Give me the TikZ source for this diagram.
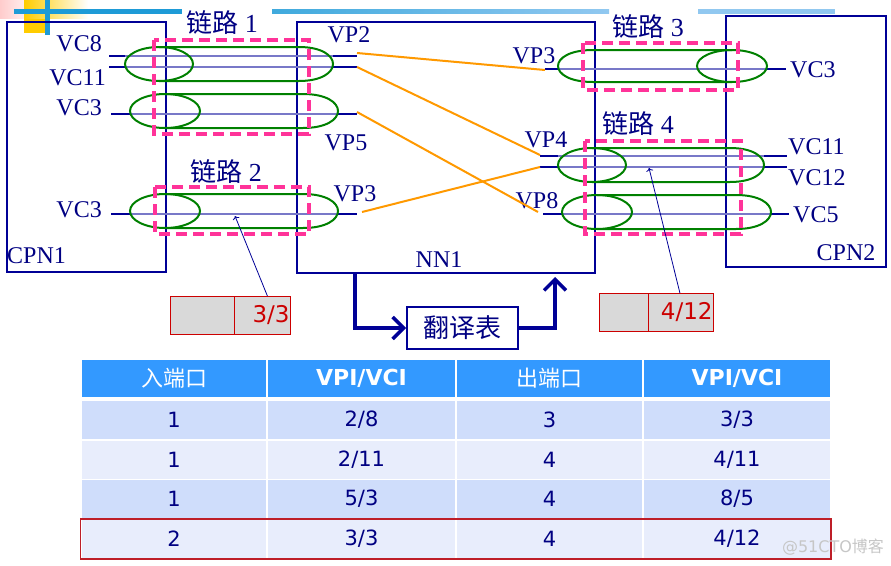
\documentclass[tikz,border=0pt]{standalone}
\usepackage{fontspec}
\usetikzlibrary{arrows.meta}
\setmainfont{Liberation Serif}
\newfontfamily\cjk{Noto Sans CJK SC}
\newfontfamily\tabfont{DejaVu Sans}
\definecolor{boxblue}{RGB}{0,0,150}
\definecolor{txtblue}{RGB}{0,0,130}
\definecolor{lightvc}{RGB}{120,120,200}
\definecolor{linkpink}{RGB}{255,51,153}
\definecolor{pipegreen}{RGB}{0,128,0}
\definecolor{vporange}{RGB}{255,153,0}
\definecolor{hdrblue}{RGB}{51,153,255}
\definecolor{rowa}{RGB}{207,221,251}
\definecolor{rowb}{RGB}{232,237,252}
\definecolor{valred}{RGB}{204,0,0}
\definecolor{valgray}{RGB}{217,217,217}
\definecolor{decoblue}{RGB}{30,155,215}
\definecolor{decolight}{RGB}{145,200,240}
\definecolor{gold}{RGB}{255,204,0}
\definecolor{rowline}{RGB}{190,30,40}

\begin{document}
\begin{tikzpicture}[x=1pt, y=-1pt,
	box/.style={draw=boxblue, line width=2pt, inner sep=0pt},
	lbl/.style={text=txtblue, inner sep=0pt, font=\fontsize{24}{26}\selectfont},
	link/.style={text=txtblue, inner sep=0pt, font=\fontsize{26}{28}\selectfont},
	vc/.style={boxblue, line width=2pt},
	vcin/.style={lightvc, line width=2pt},
	pipe/.style={pipegreen, line width=2pt},
	linkbox/.style={linkpink, line width=3.2pt, dash pattern=on 11pt off 6pt},
	xconn/.style={vporange, line width=2pt},
	ptr/.style={->, boxblue, line width=0.8pt},
	xlate/.style={-{Straight Barb[length=11pt, width=22pt]}, boxblue, line width=3.5pt},
	valcell/.style={draw=valred, fill=valgray, line width=0.8pt, minimum height=38pt, inner sep=0pt},
	valtext/.style={text=valred, inner sep=1pt, font=\tabfont\fontsize{23}{25}\selectfont},
	cellbox/.style={draw=white, line width=1.5pt},
	hdrtext/.style={text=white, font=\tabfont\bfseries\fontsize{22}{24}\selectfont},
	cell/.style={text=txtblue, font=\tabfont\fontsize{21}{23}\selectfont}]
	\useasboundingbox (0,0) rectangle (891,565);
	\shade[left color=pink!80, right color=pink!30] (0,0) rectangle (24,18);
	\shade[left color=gold, right color=white] (24,0) rectangle (88,18);
	\fill[gold] (24,19) rectangle (48,33);
	\fill[decoblue] (45,0) rectangle (50,35);
	\fill[decoblue] (14,9) rectangle (182,13.5);
	\shade[left color=decoblue!85, right color=decolight] (272,9) rectangle (609,13.5);
	\fill[decolight] (698,9) rectangle (835,13.5);

	\node[box, minimum width=159pt, minimum height=250pt] (cpn1) at (86.5,147) {};
	\node[box, minimum width=298pt, minimum height=251pt] (nn1) at (446,147.5) {};
	\node[box, minimum width=160pt, minimum height=251pt] (cpn2) at (806,141.5) {};
	\node[lbl, anchor=west] (cpn1l) at (7,256) {CPN1};
	\node[lbl] (nn1l) at (439,260) {NN1};
	\node[lbl] (cpn2l) at (846,253) {CPN2};

	\foreach \y/\xa/\xb/\la/\lb in {56/109/357/125/333, 67/109/357/125/333, 114/111/357/130/338, 214/111/357/130/338, 69/545/786/558/767, 156/540/787/558/764, 167/540/787/558/764, 214/543/789/562/771}{
		\draw[vc] (\xa,\y) -- (\xb,\y);
		\draw[vcin] (\la,\y) -- (\lb,\y);
	}
	\foreach \xf/\xh/\s/\yc/\rx/\ry in {159/299/1/64/34/17, 165/303/1/111/35/17, 165/303/1/211/35/17, 732/593/-1/66/35/16, 592/730/1/165/34/17, 597/736/1/212/35/17}{
		\draw[pipe] (\xf,\yc) ellipse[x radius=\rx, y radius=\ry];
		\draw[pipe] (\xf,\yc-\ry) -- (\xh,\yc-\ry) .. controls ({\xh+(\s)*1.333*\rx},\yc-\ry) and ({\xh+(\s)*1.333*\rx},\yc+\ry) .. (\xh,\yc+\ry) -- (\xf,\yc+\ry);
	}
	\draw[linkbox] (154,40) rectangle (309,134);
	\draw[linkbox] (155,187) rectangle (309,234);
	\draw[linkbox] (583,43) rectangle (738,90);
	\draw[linkbox] (585,141) rectangle (741,234);
	\node[link] (link1) at (222,23) {{\cjk 链路} 1};
	\node[link] (link2) at (226,172) {{\cjk 链路} 2};
	\node[link] (link3) at (648,27) {{\cjk 链路} 3};
	\node[link] (link4) at (638,124) {{\cjk 链路} 4};

	\node[lbl, anchor=east] (vc8) at (102,44) {VC8};
	\node[lbl, anchor=east] (vc11) at (106,78) {VC11};
	\node[lbl, anchor=east] (vc3a) at (102,108) {VC3};
	\node[lbl, anchor=east] (vc3b) at (102,210) {VC3};
	\node[lbl] (vp2l) at (349,35) {VP2};
	\node[lbl] (vp5l) at (346,143) {VP5};
	\node[lbl] (vp3l) at (355,194) {VP3};
	\node[lbl] (vp3r) at (534,56) {VP3};
	\node[lbl] (vp4r) at (546,140) {VP4};
	\node[lbl] (vp8r) at (537,201) {VP8};
	\node[lbl, anchor=west] (vc3c) at (790,70) {VC3};
	\node[lbl, anchor=west] (vc11r) at (788,147) {VC11};
	\node[lbl, anchor=west] (vc12r) at (788,178) {VC12};
	\node[lbl, anchor=west] (vc5r) at (793,215) {VC5};

	\coordinate (vp2a) at (357,53);
	\coordinate (vp2b) at (357,67);
	\coordinate (vp5) at (357,112);
	\coordinate (vp3a) at (362,212);
	\coordinate (vp3b) at (545,70);
	\coordinate (vp4a) at (540,155);
	\coordinate (vp4b) at (540,167);
	\coordinate (vp8) at (538,212);
	\draw[xconn] (vp2a) -- (vp3b);
	\draw[xconn] (vp2b) -- (vp4a);
	\draw[xconn] (vp5) -- (vp8);
	\draw[xconn] (vp3a) -- (vp4b);

	\node[valcell, minimum width=64pt, anchor=north west] (v33a) at (170,296) {};
	\node[valcell, minimum width=56pt, anchor=north west] (v33) at (234,296) {};
	\node[valtext, anchor=east] (v33t) at (v33.east) {3/3};
	\node[valcell, minimum width=49pt, anchor=north west] (v412a) at (599,293) {};
	\node[valcell, minimum width=65pt, anchor=north west] (v412) at (648,293) {};
	\node[valtext, anchor=east] (v412t) at (v412.east) {4/12};
	\coordinate (p33) at (235,216);
	\coordinate (p412) at (649,168);
	\draw[ptr] ([xshift=5pt]v33.north) -- (p33);
	\draw[ptr] ([xshift=-1pt]v412.north) -- (p412);

	\node[box, minimum width=111pt, minimum height=42pt, text=txtblue, font=\cjk\fontsize{26}{28}\selectfont] (xlat) at (462.5,328) {翻译表};
	\coordinate (xin) at (355,273);
	\coordinate (xout) at (555,277);
	\draw[xlate] (xin) |- (xlat.west);
	\draw[xlate] (xlat.east) -| (xout);

	\foreach \xa/\xb in {81/267, 267/456, 456/643, 643/831}{
		\draw[cellbox, fill=hdrblue] (\xa,359) rectangle (\xb,398);
		\foreach \t/\c in {400.5/rowa, 440/rowb, 479.5/rowa, 519/rowb}
			\draw[cellbox, fill=\c] (\xa,\t) rectangle (\xb,\t+39.5);
	}
	\node[hdrtext, font=\cjk\fontsize{22}{24}\selectfont] (h1) at (174,378) {入端口};
	\node[hdrtext] (h2) at (361.5,378) {VPI/VCI};
	\node[hdrtext, font=\cjk\fontsize{22}{24}\selectfont] (h3) at (549.5,378) {出端口};
	\node[hdrtext] (h4) at (737,378) {VPI/VCI};
	\foreach \r/\y/\a/\bn/\bd/\c/\dn/\dd in {1/420/1/2/8/3/3/3, 2/459.5/1/2/11/4/4/11, 3/499/1/5/3/4/8/5, 4/538.5/2/3/3/4/4/12}{
		\node[cell] (in\r) at (174,\y) {\a};
		\node[cell] (vin\r) at (361.5,\y) {\bn/\bd};
		\node[cell] (out\r) at (549.5,\y) {\c};
		\node[cell] (vout\r) at (737,\y) {\dn/\dd};
	}
	\draw[rowline, line width=1.2pt] (80.5,519) rectangle (831,559);
	\node[text=gray!45, font=\tabfont\fontsize{16}{18}\selectfont] (wm) at (833,547) {@51CTO{\cjk 博客}};
\end{tikzpicture}
\end{document}
